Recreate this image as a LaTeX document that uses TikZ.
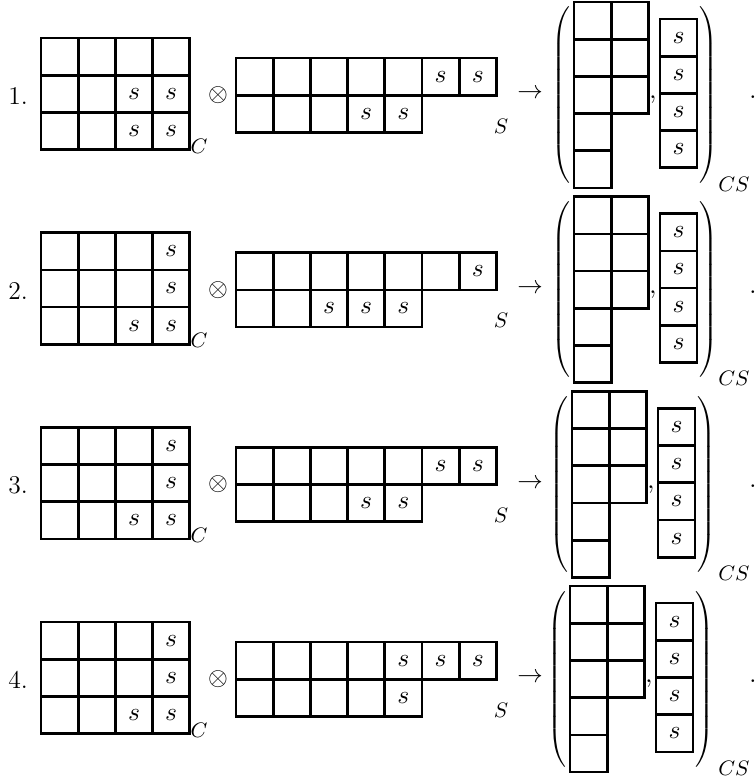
\documentclass[tikz,border=0pt]{standalone}
\usepackage{amsmath}
\usetikzlibrary{calc}

\begin{document}
\begin{tikzpicture}[
    x=0.43pt, y=-0.43pt,
    font=\fontsize{11}{13}\selectfont,
    cell/.style={draw, line width=1.15pt, minimum width=16pt, minimum height=16pt,
                 inner sep=0pt, outer sep=0pt},
    entry/.style={inner sep=0pt},
    lbl/.style={inner sep=0pt},
    sublbl/.style={inner sep=0pt, font=\fontsize{9}{11}\selectfont},
    paren/.style={inner sep=0pt, font=\fontsize{9}{11}\selectfont},
  ]
  \delimitershortfall=0pt
  \delimiterfactor=1000
  \useasboundingbox (0,0) rectangle (755,782);
  % --- one row per case: number / shift / s-boxes of colour and spin tableaux ---
  \foreach \k/\dx/\sA/\sB in {
      1/0/{2/3,2/4,3/3,3/4}/{1/6,1/7,2/4,2/5},
      2/0/{1/4,2/4,3/3,3/4}/{1/7,2/3,2/4,2/5},
      3/-2/{1/4,2/4,3/3,3/4}/{1/6,1/7,2/4,2/5},
      4/-4/{1/4,2/4,3/3,3/4}/{1/5,1/6,1/7,2/5}}{
    \begin{scope}[shift={(0,{194.7*(\k-1)})}]
      % --- case number ---
      \node[lbl] (num\k) at (18,96) {\k.};

      % --- colour tableau ---
      \foreach \r in {1,2,3}
        \foreach \c in {1,...,4}
          \node[cell] (A\k-\r-\c) at ({41+37.2*(\c-0.5)},{38+37.2*(\r-0.5)}) {};
      \foreach \r/\c in \sA
        \node[entry] (a\k-\r-\c) at (A\k-\r-\c) {$s$};
      \node[sublbl] (C\k) at (199,146) {$C$};

      \node[lbl] (ot\k) at (218,95) {$\otimes$};

      % --- spin tableau ---
      \foreach \c in {1,...,7}
        \node[cell] (B\k-1-\c) at ({236+37.2*(\c-0.5)},{58+37.2*0.5}) {};
      \foreach \c in {1,...,5}
        \node[cell] (B\k-2-\c) at ({236+37.2*(\c-0.5)},{58+37.2*1.5}) {};
      \foreach \r/\c in \sB
        \node[entry] (b\k-\r-\c) at (B\k-\r-\c) {$s$};
      \node[sublbl] (S\k) at (501,126) {$S$};

      \node[lbl] (to\k) at (530,94) {$\rightarrow$};

      % --- result pair ---
      \node[paren] (lp\k) at ({562+\dx},95) {$\left(\rule[-35pt]{0pt}{75pt}\right.$};
      \foreach \r in {1,...,5}
        \node[cell] (D\k-\r-1) at ({574+\dx+37.2*0.5},{2+37.2*(\r-0.5)}) {};
      \foreach \r in {1,2,3}
        \node[cell] (D\k-\r-2) at ({574+\dx+37.2*1.5},{2+37.2*(\r-0.5)}) {};
      \node[lbl] (cm\k) at ({653+\dx},100) {$,$};
      \foreach \r in {1,...,4} {
        \node[cell] (E\k-\r) at ({678.5+\dx},{19+37.2*(\r-0.5)}) {};
        \node[entry] (e\k-\r) at (E\k-\r) {$s$};
      }
      \node[paren] (rp\k) at ({708+\dx},95) {$\left.\rule[-35pt]{0pt}{75pt}\right)$};
      \node[sublbl] (CS\k) at (734,184) {$CS$};
      \node[lbl] (pt\k) at (753,97) {$.$};
    \end{scope}
  }
\end{tikzpicture}
\end{document}
